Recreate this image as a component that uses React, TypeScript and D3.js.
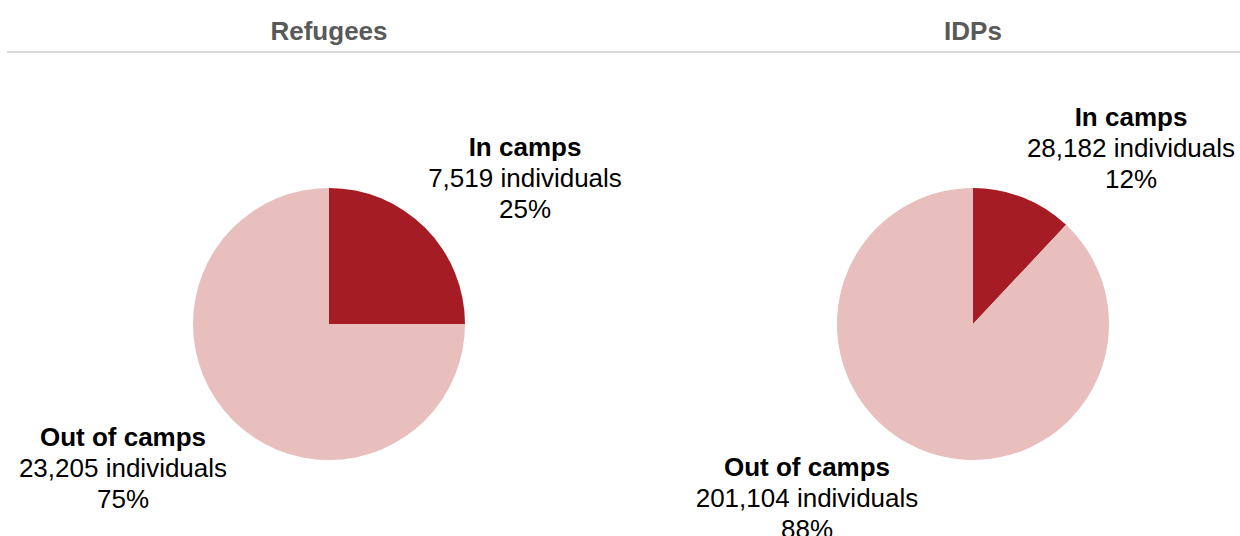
import React from 'react';
import * as d3 from 'd3';

// panel titles and slice values
const panels = ['Refugees', 'IDPs'];
const categories = ['In camps', 'Out of camps'];
const refugeeCounts = [7519, 23205];
const idpCounts = [28182, 201104];
// shares as shown on the chart (the pies are drawn from these)
const refugeeShares = [25, 75];
const idpShares = [12, 88];

const W = 1240;
const H = 536;
const colors = ['#A51C24', '#E8BFBC'];

// layout of each panel (centre of the pie and where the labels sit)
const layout = [
  { cx: 329, labels: [{ x: 525, y: 156 }, { x: 123, y: 446 }] },
  { cx: 973, labels: [{ x: 1131, y: 126 }, { x: 807, y: 476 }] },
];

const fmt = d3.format(',');

const App: React.FC = () => {
  const counts = [refugeeCounts, idpCounts];
  const shares = [refugeeShares, idpShares];
  const radius = 136;
  const cy = 324;
  const pie = d3.pie<number>().sort(null).value(d => d);
  const arc = d3.arc<d3.PieArcDatum<number>>().innerRadius(0).outerRadius(radius);

  return (
    <div style={{ position: 'absolute', left: 0, top: 0 }}>
      <svg width={W} height={H} style={{ display: 'block', fontFamily: '"Liberation Sans", Arial, sans-serif' }}>
        <line x1={7} x2={W} y1={52} y2={52} stroke="#d9d9d9" strokeWidth={2} />
        {panels.map((title, i) => {
          const arcs = pie(shares[i]);
          const L = layout[i];
          return (
            <g key={title}>
              <text x={L.cx} y={40} textAnchor="middle" fontSize={26} fontWeight="bold" fill="#595959">
                {title}
              </text>
              <g transform={`translate(${L.cx},${cy})`}>
                {arcs.map((a, j) => (
                  <path key={j} d={arc(a) || ''} fill={colors[j]} />
                ))}
              </g>
              {categories.map((c, j) => (
                <text key={c} x={L.labels[j].x} y={L.labels[j].y} textAnchor="middle" fontSize={26} fill="#000">
                  <tspan x={L.labels[j].x} fontWeight="bold">{c}</tspan>
                  <tspan x={L.labels[j].x} dy={31}>{fmt(counts[i][j])} individuals</tspan>
                  <tspan x={L.labels[j].x} dy={31}>{shares[i][j]}%</tspan>
                </text>
              ))}
            </g>
          );
        })}
      </svg>
    </div>
  );
};

export default App;
